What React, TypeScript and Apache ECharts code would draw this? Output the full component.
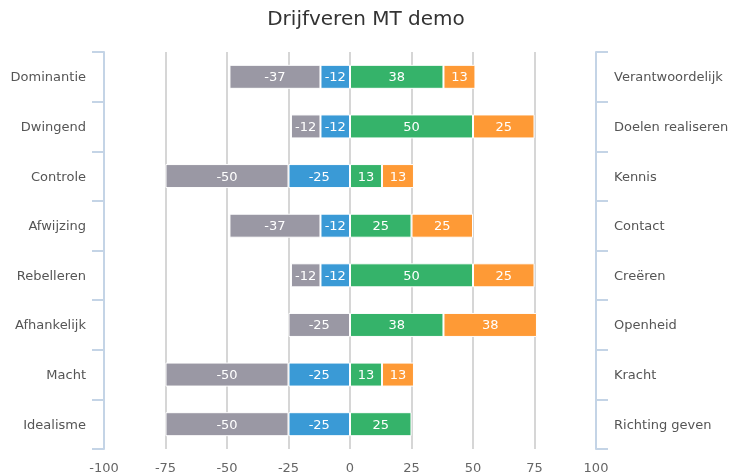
import React, { useEffect, useRef } from "react";
import * as echarts from "echarts";

const leftCategories = ["Dominantie", "Dwingend", "Controle", "Afwijzing", "Rebelleren", "Afhankelijk", "Macht", "Idealisme"];
const rightCategories = ["Verantwoordelijk", "Doelen realiseren", "Kennis", "Contact", "Creëren", "Openheid", "Kracht", "Richting geven"];
const grayValues = [-37, -12, -50, -37, -12, -25, -50, -50];
const blueValues: (number | null)[] = [-12, -12, -25, -12, -12, null, -25, -25];
const greenValues = [38, 50, 13, 25, 50, 38, 13, 25];
const orangeValues: (number | null)[] = [13, 25, 13, 25, 25, 38, 13, null];
const xTicks = [-100, 100, 25];

const FONT = "DejaVu Sans";

export default function App() {
  const ref = useRef<HTMLDivElement>(null);
  useEffect(() => {
    if (!ref.current) return;
    const chart = echarts.init(ref.current, undefined, { renderer: "svg" });
    const label = {
      show: true,
      color: "#fff",
      fontSize: 13,
      fontFamily: FONT,
      formatter: (p: any) => String(p.value),
    };
    const mk = (name: string, data: (number | null)[], color: string) => ({
      name,
      type: "bar",
      stack: "all",
      data: data.map((v) => (v === null ? "-" : v)),
      barWidth: 24,
      itemStyle: { color, borderColor: "#fff", borderWidth: 1 },
      label,
      yAxisIndex: 0,
    });
    const yAxisCommon = {
      type: "category",
      inverse: true,
      axisLine: { show: true, onZero: false, lineStyle: { color: "#c4d4e6", width: 2 } },
      axisTick: { show: true, length: 12, lineStyle: { color: "#c4d4e6", width: 2 } },
      splitLine: { show: false },
      axisLabel: { color: "#555", fontSize: 13, fontFamily: FONT, margin: 18 },
    };
    chart.setOption({
      animation: false,
      title: {
        text: "Drijfveren MT demo",
        left: "center",
        top: 3,
        textStyle: { fontSize: 20, fontWeight: "normal", color: "#333", fontFamily: FONT },
      },
      grid: { left: 104, right: 136, top: 52, bottom: 27, containLabel: false },
      xAxis: {
        type: "value",
        min: xTicks[0],
        max: xTicks[1],
        interval: xTicks[2],
        axisLine: { show: false },
        axisTick: { show: false },
        splitLine: { show: true, showMinLine: false, showMaxLine: false, lineStyle: { color: "#d6d6d6", width: 2 } },
        axisLabel: { color: "#666", fontSize: 13, fontFamily: FONT, margin: 12 },
      },
      yAxis: [
        { ...yAxisCommon, position: "left", data: leftCategories },
        { ...yAxisCommon, position: "right", data: rightCategories },
      ],
      series: [
        mk("blue", blueValues, "#3a9ad6"),
        mk("gray", grayValues, "#9a98a4"),
        mk("green", greenValues, "#35b36a"),
        mk("orange", orangeValues, "#fe9a36"),
      ],
    });
    return () => chart.dispose();
  }, []);
  return (
    <div
      ref={ref}
      style={{ position: "fixed", left: 0, top: 0, width: 732, height: 476, overflow: "hidden" }}
    />
  );
}
